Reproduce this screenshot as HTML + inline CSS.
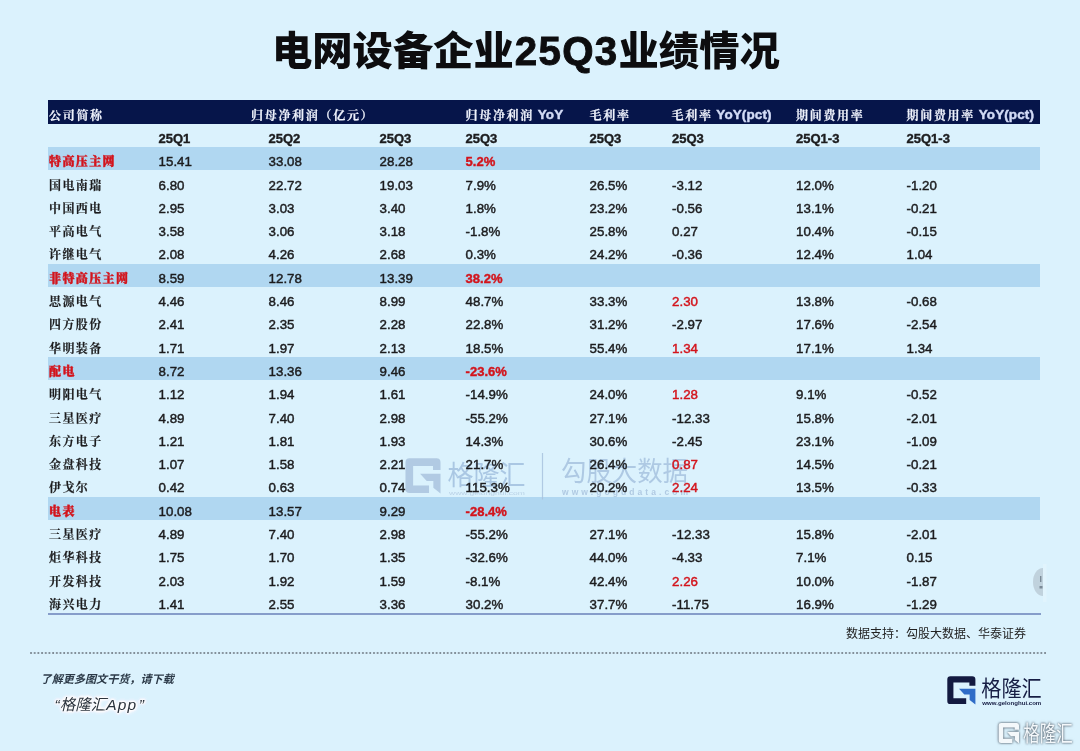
<!DOCTYPE html>
<html lang="zh-CN">
<head>
<meta charset="utf-8">
<title>电网设备企业25Q3业绩情况</title>
<style>
html,body{margin:0;padding:0;}
body{width:1080px;height:751px;overflow:hidden;background:#dbf2fd;position:relative;font-family:"Liberation Sans","Noto Sans CJK SC",sans-serif;color:#1c1c1e;}
.title{position:absolute;left:272px;top:23px;text-align:left;font-size:40.3px;line-height:58px;font-weight:900;color:#0d0d0f;white-space:nowrap;letter-spacing:0;}
.tn{font-weight:700;-webkit-text-stroke:0.9px #0d0d0f;letter-spacing:1.3px;margin-left:1px;}
.tbl{position:absolute;left:0;top:0;width:1080px;height:751px;filter:blur(0.45px);}
.hd{position:absolute;left:48px;top:100px;width:992px;height:24px;background:#06154a;}
.band{position:absolute;left:48px;width:992px;height:22.9px;background:#b0d7f1;}
.c{position:absolute;white-space:nowrap;font-size:13.3px;line-height:16px;height:16px;-webkit-text-stroke:0.45px currentColor;}
.k{font-family:"Liberation Serif","Noto Serif CJK SC",serif;font-weight:700;letter-spacing:1.4px;font-size:12px;-webkit-text-stroke:0.2px currentColor;}
.h{color:#eef2fc;}
.h .k{letter-spacing:1.7px;}
.h b{color:#d2dbf6;font-size:13.5px;letter-spacing:0.1px;position:relative;top:-0.9px;}
.b{font-weight:700;font-size:13px;-webkit-text-stroke:0.4px currentColor;}
.r{color:#d3141c;}
.g .k{color:#d3141c;font-weight:900;-webkit-text-stroke:0.45px #d3141c;}
.line{position:absolute;left:48px;top:613.2px;width:992.5px;height:1.8px;background:#869dca;}
.src{position:absolute;right:54px;top:625px;font-size:12px;line-height:18px;color:#222;white-space:nowrap;}
.dots{position:absolute;left:30px;top:651.5px;width:1016px;height:2px;background:radial-gradient(circle at 1.1px 1px,#7f8b95 0.7px,rgba(127,139,149,0) 1.35px) 0 0/3.7px 2px repeat-x;}
.f1{position:absolute;left:40.6px;top:670px;font-size:11.1px;line-height:18px;font-style:italic;font-weight:700;color:#2c3a48;white-space:nowrap;}
.f2{position:absolute;left:54.5px;top:692.6px;font-size:15.5px;line-height:24px;font-style:italic;color:#2b333d;white-space:nowrap;text-shadow:0 0 3px #fff,0 0 3px #fff,0 0 3px #fff,0 0 3px #fff,0 0 3px #fff,0 0 3px #fff,0 0 3px #fff,0 0 3px #fff,0 0 5px #fff,0 0 5px #fff,0 0 5px #fff,0 0 5px #fff;}
.f2 i{letter-spacing:1.2px;}
.f2 u{text-decoration:none;margin-left:1.5px;}
svg{position:absolute;overflow:visible;}
</style>
</head>
<body>
<div class="title">电网设备企业<span class="tn">25Q3</span>业绩情况</div>
<div class="tbl">
<div class="hd"></div>

<div class="band" style="top:147.3px"></div>
<div class="band" style="top:263.8px"></div>
<div class="band" style="top:357.0px"></div>
<div class="band" style="top:496.8px"></div>
<svg width="1080" height="751" viewBox="0 0 1080 751" style="left:0;top:0">
<g opacity="0.85">
<g transform="translate(405.5,458.3) scale(0.06629)" >
<path d="M60,0 H468 Q528,0 528,60 V177 H415 V117 H115 V412 H355 V522 H60 Q0,522 0,462 V60 Q0,0 60,0 Z" fill="#aac4de"/>
<path d="M220,232 H528 V532 L420,445 V342 H320 Z" fill="#aac4de"/>
</g>
<text x="447.5" y="485.3" font-family="'Liberation Sans','Noto Sans CJK SC',sans-serif" font-size="27" font-weight="400" fill="#a2c0df" textLength="78" lengthAdjust="spacingAndGlyphs">格隆汇</text>
<text x="449" y="494.6" font-family="'Liberation Sans',sans-serif" font-size="6" font-weight="400" fill="#b4cce3" textLength="76" lengthAdjust="spacingAndGlyphs">www.gelonghui.com</text>
<rect x="541.9" y="453" width="1.2" height="46.5" fill="#a9c3de"/>
<text x="561" y="481.3" font-family="'Liberation Sans','Noto Sans CJK SC',sans-serif" font-size="27" font-weight="400" fill="#a6c2df" textLength="127" lengthAdjust="spacingAndGlyphs">勾股大数据</text>
<text x="562" y="494.5" font-family="'Liberation Sans',sans-serif" font-size="8.5" font-weight="700" fill="#a9c3de" textLength="126" lengthAdjust="spacing">www.gogudata.com</text>
</g>
</svg>
<div class="c h" style="left:49px;top:107.6px"><span class="k">公司简称</span></div>
<div class="c h" style="left:251px;top:107.6px"><span class="k">归母净利润（亿元）</span></div>
<div class="c h" style="left:465.5px;top:107.6px"><span class="k">归母净利润</span> <b>YoY</b></div>
<div class="c h" style="left:589.5px;top:107.6px"><span class="k">毛利率</span></div>
<div class="c h" style="left:671.5px;top:107.6px"><span class="k">毛利率</span> <b>YoY(pct)</b></div>
<div class="c h" style="left:796px;top:107.6px"><span class="k">期间费用率</span></div>
<div class="c h" style="left:906.5px;top:107.6px"><span class="k">期间费用率</span> <b>YoY(pct)</b></div>
<div class="c b" style="left:158.5px;top:130.9px">25Q1</div>
<div class="c b" style="left:268.5px;top:130.9px">25Q2</div>
<div class="c b" style="left:379.5px;top:130.9px">25Q3</div>
<div class="c b" style="left:465.5px;top:130.9px">25Q3</div>
<div class="c b" style="left:589.5px;top:130.9px">25Q3</div>
<div class="c b" style="left:672px;top:130.9px">25Q3</div>
<div class="c b" style="left:796px;top:130.9px">25Q1-3</div>
<div class="c b" style="left:906.5px;top:130.9px">25Q1-3</div>
<div class="c g" style="left:49px;top:154.2px"><span class="k">特高压主网</span></div>
<div class="c " style="left:158.6px;top:154.2px">15.41</div>
<div class="c " style="left:268.6px;top:154.2px">33.08</div>
<div class="c " style="left:379.6px;top:154.2px">28.28</div>
<div class="c r b" style="left:465.6px;top:154.2px">5.2%</div>
<div class="c " style="left:49px;top:177.5px"><span class="k">国电南瑞</span></div>
<div class="c " style="left:158.6px;top:177.5px">6.80</div>
<div class="c " style="left:268.6px;top:177.5px">22.72</div>
<div class="c " style="left:379.6px;top:177.5px">19.03</div>
<div class="c " style="left:465.6px;top:177.5px">7.9%</div>
<div class="c " style="left:589.6px;top:177.5px">26.5%</div>
<div class="c " style="left:672.1px;top:177.5px">-3.12</div>
<div class="c " style="left:796.1px;top:177.5px">12.0%</div>
<div class="c " style="left:906.6px;top:177.5px">-1.20</div>
<div class="c " style="left:49px;top:200.8px"><span class="k">中国西电</span></div>
<div class="c " style="left:158.6px;top:200.8px">2.95</div>
<div class="c " style="left:268.6px;top:200.8px">3.03</div>
<div class="c " style="left:379.6px;top:200.8px">3.40</div>
<div class="c " style="left:465.6px;top:200.8px">1.8%</div>
<div class="c " style="left:589.6px;top:200.8px">23.2%</div>
<div class="c " style="left:672.1px;top:200.8px">-0.56</div>
<div class="c " style="left:796.1px;top:200.8px">13.1%</div>
<div class="c " style="left:906.6px;top:200.8px">-0.21</div>
<div class="c " style="left:49px;top:224.1px"><span class="k">平高电气</span></div>
<div class="c " style="left:158.6px;top:224.1px">3.58</div>
<div class="c " style="left:268.6px;top:224.1px">3.06</div>
<div class="c " style="left:379.6px;top:224.1px">3.18</div>
<div class="c " style="left:465.6px;top:224.1px">-1.8%</div>
<div class="c " style="left:589.6px;top:224.1px">25.8%</div>
<div class="c " style="left:672.1px;top:224.1px">0.27</div>
<div class="c " style="left:796.1px;top:224.1px">10.4%</div>
<div class="c " style="left:906.6px;top:224.1px">-0.15</div>
<div class="c " style="left:49px;top:247.4px"><span class="k">许继电气</span></div>
<div class="c " style="left:158.6px;top:247.4px">2.08</div>
<div class="c " style="left:268.6px;top:247.4px">4.26</div>
<div class="c " style="left:379.6px;top:247.4px">2.68</div>
<div class="c " style="left:465.6px;top:247.4px">0.3%</div>
<div class="c " style="left:589.6px;top:247.4px">24.2%</div>
<div class="c " style="left:672.1px;top:247.4px">-0.36</div>
<div class="c " style="left:796.1px;top:247.4px">12.4%</div>
<div class="c " style="left:906.6px;top:247.4px">1.04</div>
<div class="c g" style="left:49px;top:270.7px"><span class="k">非特高压主网</span></div>
<div class="c " style="left:158.6px;top:270.7px">8.59</div>
<div class="c " style="left:268.6px;top:270.7px">12.78</div>
<div class="c " style="left:379.6px;top:270.7px">13.39</div>
<div class="c r b" style="left:465.6px;top:270.7px">38.2%</div>
<div class="c " style="left:49px;top:294.0px"><span class="k">思源电气</span></div>
<div class="c " style="left:158.6px;top:294.0px">4.46</div>
<div class="c " style="left:268.6px;top:294.0px">8.46</div>
<div class="c " style="left:379.6px;top:294.0px">8.99</div>
<div class="c " style="left:465.6px;top:294.0px">48.7%</div>
<div class="c " style="left:589.6px;top:294.0px">33.3%</div>
<div class="c r" style="left:672.1px;top:294.0px">2.30</div>
<div class="c " style="left:796.1px;top:294.0px">13.8%</div>
<div class="c " style="left:906.6px;top:294.0px">-0.68</div>
<div class="c " style="left:49px;top:317.3px"><span class="k">四方股份</span></div>
<div class="c " style="left:158.6px;top:317.3px">2.41</div>
<div class="c " style="left:268.6px;top:317.3px">2.35</div>
<div class="c " style="left:379.6px;top:317.3px">2.28</div>
<div class="c " style="left:465.6px;top:317.3px">22.8%</div>
<div class="c " style="left:589.6px;top:317.3px">31.2%</div>
<div class="c " style="left:672.1px;top:317.3px">-2.97</div>
<div class="c " style="left:796.1px;top:317.3px">17.6%</div>
<div class="c " style="left:906.6px;top:317.3px">-2.54</div>
<div class="c " style="left:49px;top:340.6px"><span class="k">华明装备</span></div>
<div class="c " style="left:158.6px;top:340.6px">1.71</div>
<div class="c " style="left:268.6px;top:340.6px">1.97</div>
<div class="c " style="left:379.6px;top:340.6px">2.13</div>
<div class="c " style="left:465.6px;top:340.6px">18.5%</div>
<div class="c " style="left:589.6px;top:340.6px">55.4%</div>
<div class="c r" style="left:672.1px;top:340.6px">1.34</div>
<div class="c " style="left:796.1px;top:340.6px">17.1%</div>
<div class="c " style="left:906.6px;top:340.6px">1.34</div>
<div class="c g" style="left:49px;top:363.9px"><span class="k">配电</span></div>
<div class="c " style="left:158.6px;top:363.9px">8.72</div>
<div class="c " style="left:268.6px;top:363.9px">13.36</div>
<div class="c " style="left:379.6px;top:363.9px">9.46</div>
<div class="c r b" style="left:465.6px;top:363.9px">-23.6%</div>
<div class="c " style="left:49px;top:387.2px"><span class="k">明阳电气</span></div>
<div class="c " style="left:158.6px;top:387.2px">1.12</div>
<div class="c " style="left:268.6px;top:387.2px">1.94</div>
<div class="c " style="left:379.6px;top:387.2px">1.61</div>
<div class="c " style="left:465.6px;top:387.2px">-14.9%</div>
<div class="c " style="left:589.6px;top:387.2px">24.0%</div>
<div class="c r" style="left:672.1px;top:387.2px">1.28</div>
<div class="c " style="left:796.1px;top:387.2px">9.1%</div>
<div class="c " style="left:906.6px;top:387.2px">-0.52</div>
<div class="c " style="left:49px;top:410.5px"><span class="k">三星医疗</span></div>
<div class="c " style="left:158.6px;top:410.5px">4.89</div>
<div class="c " style="left:268.6px;top:410.5px">7.40</div>
<div class="c " style="left:379.6px;top:410.5px">2.98</div>
<div class="c " style="left:465.6px;top:410.5px">-55.2%</div>
<div class="c " style="left:589.6px;top:410.5px">27.1%</div>
<div class="c " style="left:672.1px;top:410.5px">-12.33</div>
<div class="c " style="left:796.1px;top:410.5px">15.8%</div>
<div class="c " style="left:906.6px;top:410.5px">-2.01</div>
<div class="c " style="left:49px;top:433.8px"><span class="k">东方电子</span></div>
<div class="c " style="left:158.6px;top:433.8px">1.21</div>
<div class="c " style="left:268.6px;top:433.8px">1.81</div>
<div class="c " style="left:379.6px;top:433.8px">1.93</div>
<div class="c " style="left:465.6px;top:433.8px">14.3%</div>
<div class="c " style="left:589.6px;top:433.8px">30.6%</div>
<div class="c " style="left:672.1px;top:433.8px">-2.45</div>
<div class="c " style="left:796.1px;top:433.8px">23.1%</div>
<div class="c " style="left:906.6px;top:433.8px">-1.09</div>
<div class="c " style="left:49px;top:457.1px"><span class="k">金盘科技</span></div>
<div class="c " style="left:158.6px;top:457.1px">1.07</div>
<div class="c " style="left:268.6px;top:457.1px">1.58</div>
<div class="c " style="left:379.6px;top:457.1px">2.21</div>
<div class="c " style="left:465.6px;top:457.1px">21.7%</div>
<div class="c " style="left:589.6px;top:457.1px">26.4%</div>
<div class="c r" style="left:672.1px;top:457.1px">0.87</div>
<div class="c " style="left:796.1px;top:457.1px">14.5%</div>
<div class="c " style="left:906.6px;top:457.1px">-0.21</div>
<div class="c " style="left:49px;top:480.4px"><span class="k">伊戈尔</span></div>
<div class="c " style="left:158.6px;top:480.4px">0.42</div>
<div class="c " style="left:268.6px;top:480.4px">0.63</div>
<div class="c " style="left:379.6px;top:480.4px">0.74</div>
<div class="c " style="left:465.6px;top:480.4px">115.3%</div>
<div class="c " style="left:589.6px;top:480.4px">20.2%</div>
<div class="c r" style="left:672.1px;top:480.4px">2.24</div>
<div class="c " style="left:796.1px;top:480.4px">13.5%</div>
<div class="c " style="left:906.6px;top:480.4px">-0.33</div>
<div class="c g" style="left:49px;top:503.7px"><span class="k">电表</span></div>
<div class="c " style="left:158.6px;top:503.7px">10.08</div>
<div class="c " style="left:268.6px;top:503.7px">13.57</div>
<div class="c " style="left:379.6px;top:503.7px">9.29</div>
<div class="c r b" style="left:465.6px;top:503.7px">-28.4%</div>
<div class="c " style="left:49px;top:527.0px"><span class="k">三星医疗</span></div>
<div class="c " style="left:158.6px;top:527.0px">4.89</div>
<div class="c " style="left:268.6px;top:527.0px">7.40</div>
<div class="c " style="left:379.6px;top:527.0px">2.98</div>
<div class="c " style="left:465.6px;top:527.0px">-55.2%</div>
<div class="c " style="left:589.6px;top:527.0px">27.1%</div>
<div class="c " style="left:672.1px;top:527.0px">-12.33</div>
<div class="c " style="left:796.1px;top:527.0px">15.8%</div>
<div class="c " style="left:906.6px;top:527.0px">-2.01</div>
<div class="c " style="left:49px;top:550.3px"><span class="k">炬华科技</span></div>
<div class="c " style="left:158.6px;top:550.3px">1.75</div>
<div class="c " style="left:268.6px;top:550.3px">1.70</div>
<div class="c " style="left:379.6px;top:550.3px">1.35</div>
<div class="c " style="left:465.6px;top:550.3px">-32.6%</div>
<div class="c " style="left:589.6px;top:550.3px">44.0%</div>
<div class="c " style="left:672.1px;top:550.3px">-4.33</div>
<div class="c " style="left:796.1px;top:550.3px">7.1%</div>
<div class="c " style="left:906.6px;top:550.3px">0.15</div>
<div class="c " style="left:49px;top:573.6px"><span class="k">开发科技</span></div>
<div class="c " style="left:158.6px;top:573.6px">2.03</div>
<div class="c " style="left:268.6px;top:573.6px">1.92</div>
<div class="c " style="left:379.6px;top:573.6px">1.59</div>
<div class="c " style="left:465.6px;top:573.6px">-8.1%</div>
<div class="c " style="left:589.6px;top:573.6px">42.4%</div>
<div class="c r" style="left:672.1px;top:573.6px">2.26</div>
<div class="c " style="left:796.1px;top:573.6px">10.0%</div>
<div class="c " style="left:906.6px;top:573.6px">-1.87</div>
<div class="c " style="left:49px;top:596.9px"><span class="k">海兴电力</span></div>
<div class="c " style="left:158.6px;top:596.9px">1.41</div>
<div class="c " style="left:268.6px;top:596.9px">2.55</div>
<div class="c " style="left:379.6px;top:596.9px">3.36</div>
<div class="c " style="left:465.6px;top:596.9px">30.2%</div>
<div class="c " style="left:589.6px;top:596.9px">37.7%</div>
<div class="c " style="left:672.1px;top:596.9px">-11.75</div>
<div class="c " style="left:796.1px;top:596.9px">16.9%</div>
<div class="c " style="left:906.6px;top:596.9px">-1.29</div>
<div class="line"></div>
</div>
<div class="src">数据支持：勾股大数据、华泰证券</div>
<div class="dots"></div>
<div class="f1">了解更多图文干货，请下载</div>
<div class="f2">“格隆汇<i>App</i><u>”</u></div>
<svg width="1080" height="751" viewBox="0 0 1080 751" style="left:0;top:0">
<g transform="translate(947.3,676.3) scale(0.05322)" >
<path d="M60,0 H468 Q528,0 528,60 V177 H415 V117 H115 V412 H355 V522 H60 Q0,522 0,462 V60 Q0,0 60,0 Z" fill="#131a40"/>
<path d="M220,232 H528 V532 L420,445 V342 H320 Z" fill="#2f6cc7"/>
</g>
<text x="981.3" y="696.2" font-family="'Liberation Sans','Noto Sans CJK SC',sans-serif" font-size="22" font-weight="400" fill="#161d44" textLength="60.5" lengthAdjust="spacingAndGlyphs">格隆汇</text>
<text x="982.3" y="704.9" font-family="'Liberation Sans',sans-serif" font-size="5.2" font-weight="700" fill="#161d44" textLength="59" lengthAdjust="spacingAndGlyphs">www.gelonghui.com</text>
<g style="filter:drop-shadow(0 0 0.8px rgba(80,92,104,1)) drop-shadow(0 0 1px rgba(120,135,150,.5))">
<g transform="translate(998.7,723) scale(0.03845)" >
<path d="M60,0 H468 Q528,0 528,60 V177 H415 V117 H115 V412 H355 V522 H60 Q0,522 0,462 V60 Q0,0 60,0 Z" fill="#f4f8fb"/>
<path d="M220,232 H528 V532 L420,445 V342 H320 Z" fill="#f4f8fb"/>
</g>
<text x="1023.2" y="741.3" font-family="'Liberation Sans','Noto Sans CJK SC',sans-serif" font-size="21.5" font-weight="400" fill="#f4f8fb" textLength="49.5" lengthAdjust="spacingAndGlyphs">格隆汇</text>
</g>
<path d="M1043,568 A10,14 0 0 0 1043,596 Z" fill="#b7c7d2" opacity="0.75"/>
<rect x="1043" y="564" width="3.5" height="38" fill="#eef8fe" opacity="0.3"/>
<rect x="1040" y="576" width="1.4" height="6" fill="#7a8a97"/><rect x="1039.5" y="586" width="3" height="2.5" fill="#7a8a97"/>
</svg>
</body>
</html>
